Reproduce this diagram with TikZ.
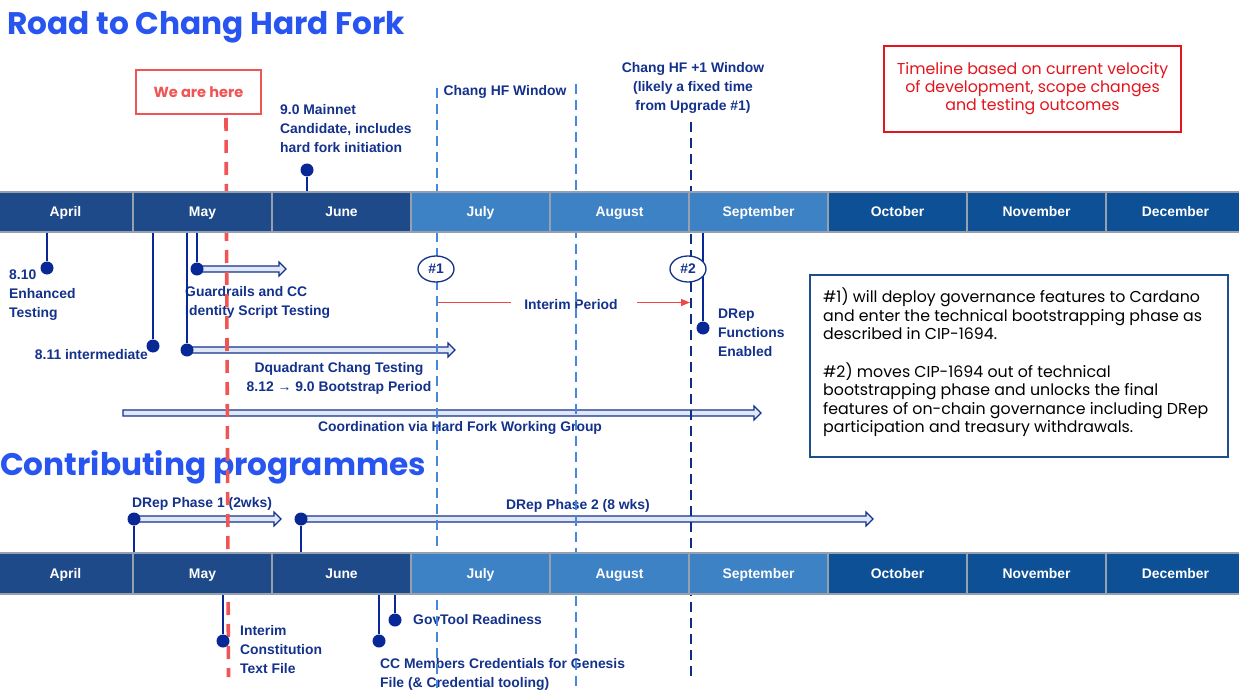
\documentclass[tikz,border=0pt]{standalone}
\usepackage{fontspec}
\setmainfont{Liberation Sans}
\newfontfamily\pop{Poppins}
\usetikzlibrary{calc,shapes.geometric,arrows.meta}
\pgfdeclarelayer{back}
\pgfdeclarelayer{dashes}
\pgfsetlayers{back,dashes,main}
\definecolor{navy}{RGB}{20,50,140}
\definecolor{dotc}{RGB}{8,40,150}
\definecolor{navytwo}{RGB}{15,45,130}
\definecolor{hfblue}{RGB}{70,135,225}
\definecolor{herered}{RGB}{240,85,85}
\definecolor{notered}{RGB}{228,20,28}
\definecolor{interimred}{RGB}{240,70,70}
\definecolor{arrfill}{RGB}{225,232,245}
\definecolor{boxblue}{RGB}{30,78,140}
\definecolor{ttlblue}{RGB}{40,85,240}
\definecolor{barA}{RGB}{31,74,138}
\definecolor{barB}{RGB}{62,130,198}
\definecolor{barC}{RGB}{13,80,150}
\definecolor{sep}{RGB}{150,160,175}
\tikzset{
 lbl/.style={font=\bfseries\fontsize{13.9}{19}\selectfont, text=navy, inner sep=0pt},
 month/.style={draw=sep, line width=1.3pt, minimum height=40pt, inner sep=0pt, text height=10pt, text depth=0pt, font=\bfseries\fontsize{13.9}{16}\selectfont, text=white},
 dot/.style={circle, fill=dotc, minimum size=13pt, inner sep=0pt},
 stem/.style={dotc, line width=2.6pt},
 hfdash/.style={hfblue, line width=2.4pt, dash pattern=on 10pt off 6pt},
 hfonedash/.style={navytwo, line width=2.4pt, dash pattern=on 10pt off 6pt},
 reddash/.style={herered, line width=3.6pt, dash pattern=on 13pt off 9pt},
 ttl/.style={font=\pop\bfseries\fontsize{31.2}{36}\selectfont, text=ttlblue, inner sep=0pt},
 hashnode/.style={ellipse, draw=navy, line width=1.3pt, fill=white, minimum width=36pt, minimum height=26pt, inner sep=0pt, text height=10pt, text depth=1pt, font=\bfseries\fontsize{13.9}{16}\selectfont, text=navy},
 redthin/.style={interimred, line width=1.2pt},
 harrow/.style={navy, line width=1.1pt, fill=arrfill, line join=miter},
}
\newcommand{\hollowarrow}[2]{\draw[harrow] let \p1=(#1), \p2=(#2) in (\x1,\y1+3pt) -- (\x2-7pt,\y1+3pt) -- (\x2-7pt,\y1+7pt) -- (\x2,\y1) -- (\x2-7pt,\y1-7pt) -- (\x2-7pt,\y1-3pt) -- (\x1,\y1-3pt) -- cycle;}
\begin{document}
\begin{tikzpicture}[x=1pt,y=-1pt]
\useasboundingbox (0,0) rectangle (1239,695);
% ---------- month bars ----------
\node[month, fill=barA, minimum width=135pt] (aprA) at (65.5,212) {April};
\node[month, fill=barA, minimum width=139pt] (mayA) at (202.5,212) {May};
\node[month, fill=barA, minimum width=139pt] (junA) at (341.5,212) {June};
\node[month, fill=barB, minimum width=139pt] (julA) at (480.5,212) {July};
\node[month, fill=barB, minimum width=139pt] (augA) at (619.5,212) {August};
\node[month, fill=barB, minimum width=139pt] (sepA) at (758.5,212) {September};
\node[month, fill=barC, minimum width=139pt] (octA) at (897.5,212) {October};
\node[month, fill=barC, minimum width=139pt] (novA) at (1036.5,212) {November};
\node[month, fill=barC, minimum width=139pt] (decA) at (1175.5,212) {December};
\node[month, fill=barA, minimum width=135pt, minimum height=41pt] (aprB) at (65.5,573.5) {April};
\node[month, fill=barA, minimum width=139pt, minimum height=41pt] (mayB) at (202.5,573.5) {May};
\node[month, fill=barA, minimum width=139pt, minimum height=41pt] (junB) at (341.5,573.5) {June};
\node[month, fill=barB, minimum width=139pt, minimum height=41pt] (julB) at (480.5,573.5) {July};
\node[month, fill=barB, minimum width=139pt, minimum height=41pt] (augB) at (619.5,573.5) {August};
\node[month, fill=barB, minimum width=139pt, minimum height=41pt] (sepB) at (758.5,573.5) {September};
\node[month, fill=barC, minimum width=139pt, minimum height=41pt] (octB) at (897.5,573.5) {October};
\node[month, fill=barC, minimum width=139pt, minimum height=41pt] (novB) at (1036.5,573.5) {November};
\node[month, fill=barC, minimum width=139pt, minimum height=41pt] (decB) at (1175.5,573.5) {December};
% ---------- markers ----------
\node[dot] (dmn) at (307,170) {};
\node[dot] (d810) at (47,268) {};
\node[dot] (d811) at (153,346) {};
\node[dot] (dq) at (187,350) {};
\node[dot] (dgr) at (197,269) {};
\node[dot] (ddr) at (703,328) {};
\node[dot] (dpa) at (134,519) {};
\node[dot] (dpb) at (301,519) {};
\node[dot] (dic) at (223,641) {};
\node[dot] (dgt) at (395,620) {};
\node[dot] (dcc) at (379,641) {};
\draw[stem] (dmn) -- (dmn |- junA.north);
\draw[stem] (d810) -- (d810 |- aprA.south);
\draw[stem] (d811) -- (d811 |- mayA.south);
\draw[stem] (dq) -- (dq |- mayA.south);
\draw[stem] (dgr) -- (dgr |- mayA.south);
\draw[stem] (ddr) -- (ddr |- sepA.south);
\draw[stem] (dpa) -- (dpa |- mayB.north);
\draw[stem] (dpb) -- (dpb |- junB.north);
\draw[stem] (dic) -- (dic |- mayB.south);
\draw[stem] (dgt) -- (dgt |- junB.south);
\draw[stem] (dcc) -- (dcc |- junB.south);
\node[hashnode] (hone) at (436,269) {\#1};
\node[hashnode] (htwo) at (688,269) {\#2};
% ---------- background layer: texts, boxes, arrows ----------
\begin{pgfonlayer}{back}
\fill[white] (0,0) rectangle (1239,695);
\node[ttl, anchor=base west] (title) at (7,35) {Road to Chang Hard Fork};
\node[ttl, anchor=base west] (title2) at (0,475) {Contributing programmes};
\node[draw=herered, line width=2pt, minimum width=125pt, minimum height=44pt, inner sep=0pt, font=\pop\bfseries\fontsize{14.6}{16}\selectfont, text=herered] (here) at (198.5,92) {We are here};
\node[draw=notered, line width=2pt, minimum width=297pt, minimum height=86pt, inner sep=0pt, align=center, font=\pop\fontsize{15.8}{18}\selectfont, text=notered] (velocity) at (1032.5,89) {Timeline based on current velocity\\of development, scope changes\\and testing outcomes};
\node[draw=boxblue, line width=2pt, minimum width=418pt, minimum height=182pt] (notebox) at (1019,366) {};
\node[anchor=west, align=left, inner sep=0pt, font=\pop\fontsize{15.8}{18.6}\selectfont] (notetext) at (823,362.5) {\#1) will deploy governance features to Cardano\\and enter the technical bootstrapping phase as\\described in CIP-1694.\\[18.6pt]\#2) moves CIP-1694 out of technical\\bootstrapping phase and unlocks the final\\features of on-chain governance including DRep\\participation and treasury withdrawals.};
\node[lbl, align=left, anchor=west] (mainnet) at (280,128.5) {9.0 Mainnet\\Candidate, includes\\hard fork initiation};
\node[lbl, anchor=base] (hfwin) at (505,96) {Chang HF Window};
\node[lbl, align=center] (hfone) at (693,87.5) {Chang HF +1 Window\\(likely a fixed time\\from Upgrade \#1)};
\node[lbl, align=left, anchor=west] (t810) at (9,295) {8.10\\Enhanced\\Testing};
\node[lbl, anchor=base east] (t811) at (148,359) {8.11 intermediate};
\node[lbl, align=left, anchor=west] (tgr) at (185,302) {Guardrails and CC\\Identity Script Testing};
\node[lbl, align=center] (tdq) at (339,378) {Dquadrant Chang Testing\\8.12 → 9.0 Bootstrap Period};
\node[lbl, align=left, anchor=west] (tdr) at (718,333) {DRep\\Functions\\Enabled};
\node[lbl, anchor=base] (interim) at (571,309) {Interim Period};
\node[lbl, anchor=base] (coord) at (460,431) {Coordination via Hard Fork Working Group};
\node[lbl, anchor=base] (tpa) at (202,507) {DRep Phase 1 (2wks)};
\node[lbl, anchor=base] (tpb) at (578,509) {DRep Phase 2 (8 wks)};
\node[lbl, align=left, anchor=west] (tic) at (240,650) {Interim\\Constitution\\Text File};
\node[lbl, anchor=base west] (tgt) at (413,624) {GovTool Readiness};
\node[lbl, align=left, anchor=west] (tcc) at (380,674) {CC Members Credentials for Genesis\\File (\& Credential tooling)};
% hollow arrows
\coordinate (egr) at (286,269);
\coordinate (edq) at (455,350);
\coordinate (cs) at (123,413);
\coordinate (ce) at (761,413);
\coordinate (epa) at (281,519);
\coordinate (epb) at (873,519);
\hollowarrow{dgr}{egr}
\hollowarrow{dq}{edq}
\hollowarrow{cs}{ce}
\hollowarrow{dpa}{epa}
\hollowarrow{dpb}{epb}
% interim period
\coordinate (ipl) at (437,302.5);
\coordinate (ipr) at (690,302.5);
\draw[redthin, shorten >=13pt] (ipl) -- (ipl -| interim.west);
\draw[redthin, shorten <=19pt, -{Triangle[length=9pt,width=7pt]}] (ipr -| interim.east) -- (ipr);
\end{pgfonlayer}
% ---------- dashed lines ----------
\begin{pgfonlayer}{dashes}
\coordinate (wat) at (437,88);
\coordinate (wab) at (437,688);
\coordinate (wbt) at (576,84);
\coordinate (wbb) at (576,688);
\coordinate (wct) at (691,122);
\coordinate (wcb) at (691,678);
\coordinate (rt) at (226,118);
\coordinate (rb) at (228.5,677);
\draw[hfdash] (wat) -- (wab);
\draw[hfdash] (wbt) -- (wbb);
\draw[hfonedash] (wct) -- (wcb);
\draw[reddash] (rt) -- (rb);
\end{pgfonlayer}
\end{tikzpicture}
\end{document}
